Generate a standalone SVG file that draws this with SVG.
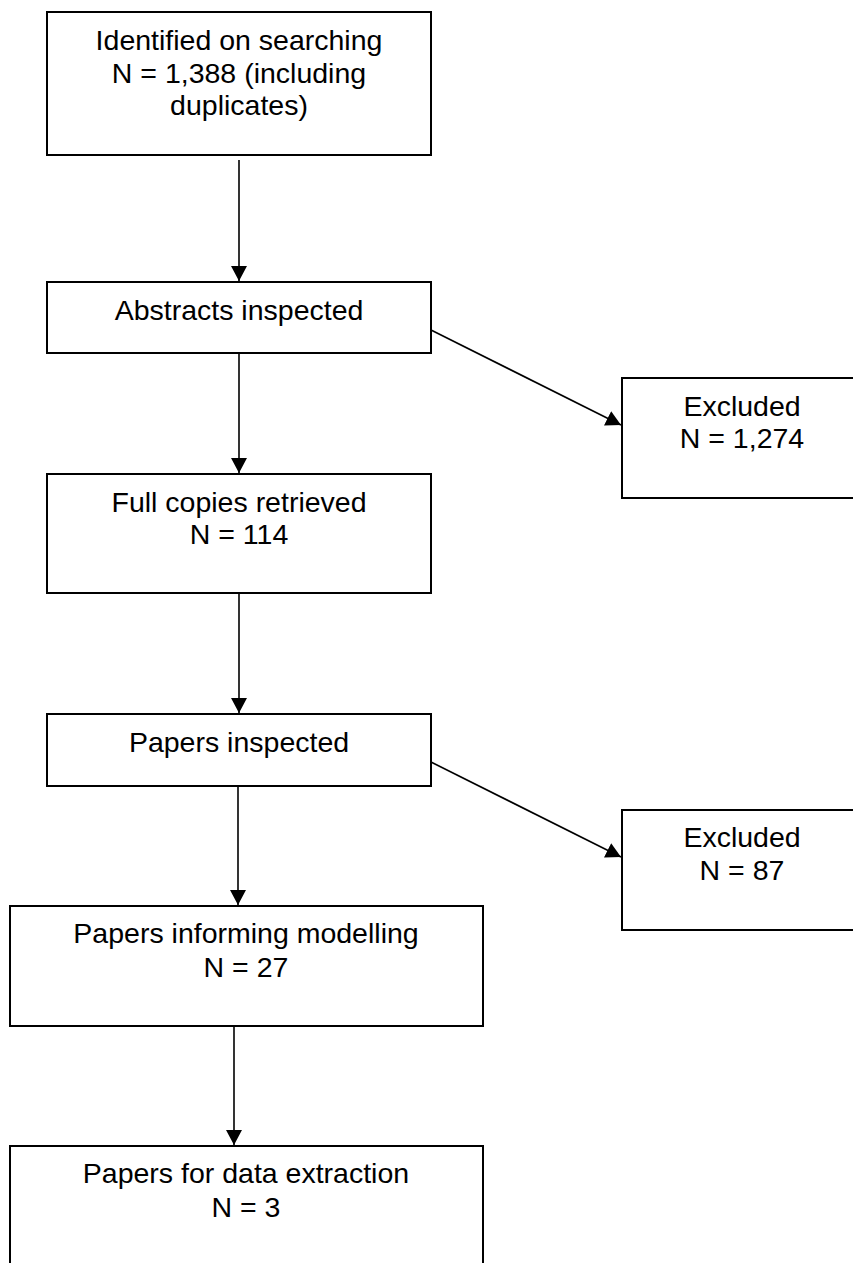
<svg xmlns="http://www.w3.org/2000/svg" width="853" height="1263" viewBox="0 0 853 1263">
<style>
.box{fill:#fff;stroke:#000;stroke-width:2}
.t{font-family:"Liberation Sans",Arial,sans-serif;font-size:28.5px;fill:#000;text-anchor:middle}
.c{stroke:#000;stroke-width:1.6;fill:none}
</style>
<defs>
<marker id="ah" markerUnits="userSpaceOnUse" markerWidth="16" markerHeight="16" viewBox="0 0 16 16" refX="15" refY="8" orient="auto">
<path d="M0,0 L15,8 L0,16 Z" fill="#000"/>
</marker>
</defs>
<rect width="853" height="1263" fill="#fff"/>
<g id="n1"><rect class="box" x="47" y="12" width="384" height="143"/>
<text class="t" x="239" y="50">Identified on searching</text>
<text class="t" x="239" y="83">N = 1,388 (including</text>
<text class="t" x="239" y="115">duplicates)</text></g>
<g id="n2"><rect class="box" x="47" y="282" width="384" height="71"/>
<text class="t" x="239" y="320">Abstracts inspected</text></g>
<g id="n3"><rect class="box" x="47" y="474" width="384" height="119"/>
<text class="t" x="239" y="512">Full copies retrieved</text>
<text class="t" x="239" y="544">N = 114</text></g>
<g id="n4"><rect class="box" x="47" y="714" width="384" height="72"/>
<text class="t" x="239" y="752">Papers inspected</text></g>
<g id="n5"><rect class="box" x="10" y="906" width="473" height="120"/>
<text class="t" x="246" y="943">Papers informing modelling</text>
<text class="t" x="246" y="977">N = 27</text></g>
<g id="n6"><rect class="box" x="10" y="1146" width="473" height="130"/>
<text class="t" x="246" y="1183">Papers for data extraction</text>
<text class="t" x="246" y="1217">N = 3</text></g>
<g id="e1"><rect class="box" x="622" y="378" width="242" height="120"/>
<text class="t" x="742" y="416">Excluded</text>
<text class="t" x="742" y="448">N = 1,274</text></g>
<g id="e2"><rect class="box" x="622" y="810" width="242" height="120"/>
<text class="t" x="742" y="847">Excluded</text>
<text class="t" x="742" y="880">N = 87</text></g>
<g id="connectors">
<line class="c" x1="239" y1="160" x2="239" y2="281" marker-end="url(#ah)"/>
<line class="c" x1="239" y1="353" x2="239" y2="473" marker-end="url(#ah)"/>
<line class="c" x1="239" y1="593" x2="239" y2="713" marker-end="url(#ah)"/>
<line class="c" x1="238" y1="786" x2="238" y2="905" marker-end="url(#ah)"/>
<line class="c" x1="234" y1="1026" x2="234" y2="1145" marker-end="url(#ah)"/>
<line class="c" x1="431" y1="330" x2="621" y2="425" marker-end="url(#ah)"/>
<line class="c" x1="431" y1="762" x2="621" y2="857" marker-end="url(#ah)"/>
</g>
</svg>
